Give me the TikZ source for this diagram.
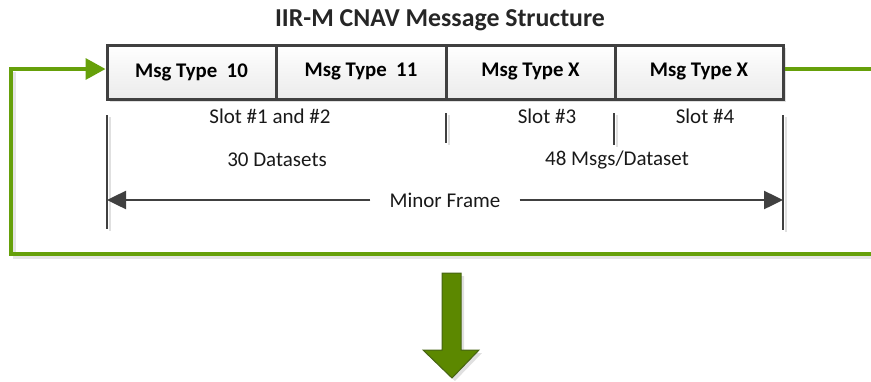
\documentclass[tikz,border=0pt]{standalone}
\usepackage{fontspec}
\setmainfont{Carlito}
\usetikzlibrary{arrows.meta,shadows}
\definecolor{loopgreen}{RGB}{102,160,10}
\definecolor{arrgreen}{RGB}{92,136,0}
\definecolor{arrborder}{RGB}{70,100,20}
\definecolor{darkline}{RGB}{64,64,64}
\tikzset{
  cell/.style={draw=darkline, line width=3pt, top color=white, bottom color=black!8,
    minimum width=169pt, minimum height=54pt, inner sep=0pt,
    font=\fontsize{20.8}{24}\selectfont\bfseries, text=black},
  lbl/.style={font=\fontsize{21}{24}\selectfont, text=black!90, inner sep=0pt},
  tick/.style={draw=darkline, line width=2.5pt},
  dim/.style={draw=darkline, line width=2.5pt, -{Triangle[length=19pt,width=18pt]}},
  loop/.style={draw=loopgreen, line width=3.5pt},
  shad/.style={draw=black!12, line width=2.5pt},
}
\begin{document}
\begin{tikzpicture}[x=1pt,y=-1pt]
\useasboundingbox (0,0) rectangle (871,381);
% title
\node[font=\fontsize{25.8}{28}\selectfont\bfseries, text=black!85] (title) at (440,20)
  {IIR-M CNAV Message Structure};
% box shadow
\fill[black!12] (110,48) rectangle (786,102);
% cells
\node[cell, minimum width=169pt] (m1) at (191.5,72) {Msg Type\ \ 10};
\node[cell, minimum width=170pt] (m2) at (361,72) {Msg Type\ \ 11};
\node[cell, minimum width=169pt] (m3) at (530.5,72) {Msg Type X};
\node[cell, minimum width=168pt] (m4) at (699,72) {Msg Type X};
% green loop
\coordinate (rt) at (871,69);
\coordinate (rb) at (871,254);
\coordinate (lb) at (11,254);
\coordinate (lt) at (11,69);
\draw[black!10, line width=3pt] (871,257) -- (14,257) -- (14,72);
\draw[loop] (m4.east |- rt) -- (rt);
\draw[loop, -{Triangle[length=20pt,width=21pt]}] (rb) -- (lb) -- (lt) -- (m1.west |- lt);
% labels
\node[lbl] (s12) at (270,116) {Slot \#1 and \#2};
\node[lbl] (s3) at (547,116) {Slot \#3};
\node[lbl] (s4) at (705,116) {Slot \#4};
\node[lbl] (d30) at (277,160) {30 Datasets};
\node[lbl] (d48) at (617,160) {48 Msgs/Dataset};
\node[lbl, inner xsep=19pt] (mf) at (445,200) {Minor Frame};
% ticks
\coordinate (t1a) at (107,115); \coordinate (t1b) at (107,229);
\coordinate (t2a) at (783,115); \coordinate (t2b) at (783,230);
\coordinate (t3a) at (446,113); \coordinate (t3b) at (446,143);
\coordinate (t4a) at (614,113); \coordinate (t4b) at (614,145);
\draw[shad] ([xshift=3pt,yshift=-2pt]t1a) -- ([xshift=3pt,yshift=-2pt]t1b);
\draw[shad] ([xshift=3pt,yshift=-2pt]t2a) -- ([xshift=3pt,yshift=-2pt]t2b);
\draw[shad] ([xshift=3pt,yshift=-2pt]t3a) -- ([xshift=3pt,yshift=-2pt]t3b);
\draw[shad] ([xshift=3pt,yshift=-2pt]t4a) -- ([xshift=3pt,yshift=-2pt]t4b);
\draw[tick] (t1a) -- (t1b);
\draw[tick] (t2a) -- (t2b);
\draw[tick] (t3a) -- (t3b);
\draw[tick] (t4a) -- (t4b);
% dimension arrows
\coordinate (dl) at (107,200);
\coordinate (dr) at (783,200);
\draw[dim] (mf.west) -- (dl);
\draw[dim] (mf.east) -- (dr);
% big down arrow
\fill[black!12] (445,276) -- (464,276) -- (464,353) -- (482,353) -- (455,381) -- (426,353) -- (445,353) -- cycle;
\draw[draw=arrborder, fill=arrgreen, line width=1pt] (442,273) -- (461,273) -- (461,350) -- (479,350) -- (452,378) -- (423,350) -- (442,350) -- cycle;
\end{tikzpicture}
\end{document}
